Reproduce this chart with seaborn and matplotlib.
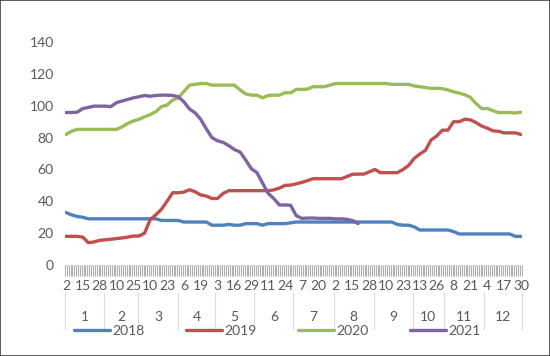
import numpy as np
import pandas as pd
import matplotlib
matplotlib.use("Agg")
import matplotlib.pyplot as plt
import seaborn as sns
from matplotlib.transforms import blended_transform_factory
from matplotlib.patches import Rectangle

# ---------------- data ----------------
day_labels = ["2", "15", "28", "10", "25", "10", "23", "6", "19", "3", "16", "29", "11", "24",
              "7", "20", "2", "15", "28", "10", "23", "13", "26", "8", "21", "4", "17", "30"]
month_labels = [str(m) for m in range(1, 13)]
# month boundaries in units of day-label spacing
month_edges = [-0.06, 2.26, 4.28, 6.66, 8.86, 11.18, 13.50, 15.88, 18.26, 20.58, 22.43, 24.81, 27.06]
years = ["2018", "2019", "2020", "2021"]
colors = ["#4F81BD", "#C0504D", "#9BBB59", "#8064A2"]
steps_per_label = 3

v2018 = [33, 31.5, 30.5, 30, 29,
         29, 29, 29, 29, 29, 29, 29, 29, 29, 29, 29, 29,
         28, 28, 28, 28,
         27, 27, 27, 27, 27,
         25, 25, 25, 25.5, 25, 25, 26, 26, 26, 25,
         26, 26, 26, 26, 26.5,
         27, 27, 27, 27, 27, 27, 27, 27, 27, 27, 27, 27, 27, 27, 27, 27, 27, 27,
         25.5, 25, 25, 24,
         22, 22, 22, 22, 22, 22,
         21,
         19.5, 19.5, 19.5, 19.5, 19.5, 19.5, 19.5, 19.5, 19.5, 19.5,
         18, 18]
v2019 = [18, 18, 18, 17.5, 14, 14.5, 15.5, 15.8, 16.2, 16.6,
         17, 17.5, 18.2, 18.2, 20, 28.5, 31.5, 35, 40, 45.4,
         45.4, 45.8, 47.3, 46, 44, 43.3, 41.8, 41.8, 45, 46.7,
         46.7, 46.7, 46.7, 46.7, 46.7, 46.7, 46.7, 47.2, 48.3, 50,
         50.2, 51, 51.9, 53, 54.2, 54.2, 54.2, 54.2, 54.2, 54.2,
         55.5, 57, 57.1, 57.1, 58.5, 60, 58, 58, 58, 58,
         60, 62.5, 67, 69.7, 72, 78.5, 81, 84.7, 84.7, 90,
         90, 91.6, 91.2, 89.5, 87.3, 86, 84.3, 84, 83, 83,
         83, 82]
v2020 = [82, 84, 85.2, 85.2, 85.2, 85.2, 85.2, 85.2, 85.2, 85.2,
         86.8, 88.9, 90.5, 91.5, 93.1, 94.5, 96.3, 99.5, 100.5, 103.6,
         105, 109, 113, 113.5, 114, 114, 113, 113, 113, 113,
         113, 110, 107.5, 106.7, 106.7, 105, 106.5, 106.7, 106.7, 108.2,
         108.2, 110.3, 110.3, 110.5, 112, 112, 112, 113, 114, 114,
         114, 114, 114, 114, 114, 114, 114, 114, 113.5, 113.5,
         113.5, 113.5, 112.5, 112, 111.5, 111, 111, 110.8, 110, 108.8,
         108, 107, 105.3, 101.5, 98.3, 98.3, 97, 95.8, 95.8, 95.8,
         95.5, 96]
v2021 = [95.8, 95.8, 96, 98.3, 99, 99.8, 99.8, 99.8, 99.5, 102,
         103, 104, 105, 105.7, 106.5, 106, 106.5, 106.7, 106.7, 106.5,
         105.7, 102.5, 98, 95.6, 91.5, 85.5, 80, 78, 77, 75,
         72.5, 71, 66, 60.5, 58, 51.5, 45, 41.8, 37.7, 37.7,
         37.5, 31, 29.3, 29.5, 29.5, 29.3, 29.3, 29.3, 29, 29,
         28.7, 28, 26]

series = {"2018": v2018, "2019": v2019, "2020": v2020, "2021": v2021}
frames = []
for y in years:
    vals = series[y]
    frames.append(pd.DataFrame({"pos": np.arange(len(vals)) / steps_per_label,
                                "value": vals, "year": y}))
df = pd.concat(frames, ignore_index=True)

# ---------------- style ----------------
sns.set_style("white")
plt.rcParams["font.family"] = ["Lato", "DejaVu Sans"]
text_color = "#595959"

fig = plt.figure(figsize=(5.5, 3.56), dpi=100)
ax = fig.add_axes([0.118, 0.2556, 0.831, 0.626])

sns.lineplot(data=df, x="pos", y="value", hue="year", hue_order=years,
             palette=dict(zip(years, colors)), linewidth=2.4, ax=ax,
             estimator=None, sort=False)

ax.set_xlim(month_edges[0], month_edges[-1])
ax.set_ylim(0, 140)
ax.set_yticks(np.arange(0, 141, 20))
ax.tick_params(axis="y", length=0, pad=8, labelsize=10, labelcolor=text_color)
ax.set_xticks(np.arange(len(day_labels)))
ax.set_xticklabels(day_labels)
ax.tick_params(axis="x", which="major", length=0, pad=11, labelsize=10, labelcolor=text_color)
ax.set_xticks(np.arange(month_edges[0], month_edges[-1] + 1e-6, 1 / 9), minor=True)
ax.tick_params(axis="x", which="minor", length=8, width=0.8, color="#b0b0b0", direction="out",
               bottom=True)
ax.set_xlabel("")
ax.set_ylabel("")
for s in ["top", "right", "left"]:
    ax.spines[s].set_visible(False)
ax.spines["bottom"].set_color("#d9d9d9")
ax.grid(False)

# month level of the category axis
tr = blended_transform_factory(ax.transData, ax.transAxes)
for e in month_edges:
    ax.plot([e, e], [-0.125, -0.285], transform=tr, color="#d9d9d9", lw=0.8, clip_on=False)
for i, m in enumerate(month_labels):
    cx = (month_edges[i] + month_edges[i + 1]) / 2
    ax.text(cx, -0.232, m, transform=tr, ha="center", va="center", fontsize=10, color=text_color)

# legend
sns.move_legend(ax, "center", bbox_to_anchor=(0.465, -0.295), ncol=4, frameon=False, title=None,
                fontsize=10, handlelength=2.6, handletextpad=0.15, columnspacing=3.0,
                labelcolor=text_color)
for line in ax.get_legend().get_lines():
    line.set_linewidth(2.4)

fig.patches.append(Rectangle((0, 0), 1, 1, transform=fig.transFigure, fill=False,
                             edgecolor="#404040", linewidth=1.2))

fig.savefig("out.png", dpi=100)
